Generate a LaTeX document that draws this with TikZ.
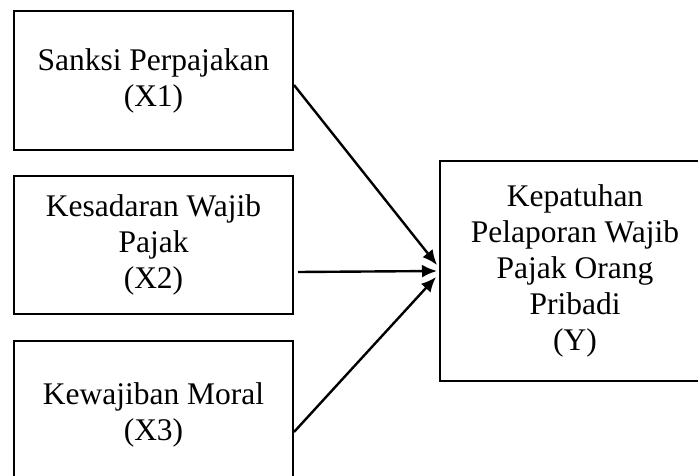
\documentclass[tikz,border=0pt]{standalone}
\usepackage{fontspec}
\setmainfont{Liberation Serif}
\usetikzlibrary{arrows.meta}
\begin{document}
\begin{tikzpicture}[x=1pt,y=-1pt,>={Latex[length=15pt,width=13pt]},
	kotak/.style={draw,line width=2pt,align=center,inner sep=0pt,font=\fontsize{31.5}{36}\selectfont},
	panah/.style={->,line width=2.4pt}]
	\useasboundingbox (0,0) rectangle (698,476);
	\clip (0,0) rectangle (698,476);
	\node[kotak,minimum width=279pt,minimum height=139pt] (x1) at (153.5,80.5) {Sanksi Perpajakan\\(X1)};
	\node[kotak,minimum width=279pt,minimum height=138pt] (x2) at (153.5,245) {Kesadaran Wajib\\Pajak\\(X2)};
	\node[kotak,minimum width=279pt,minimum height=148pt] (x3) at (153.5,415) {Kewajiban Moral\\(X3)};
	\node[kotak,minimum width=270pt,minimum height=220pt] (y) at (575,271) {Kepatuhan\\Pelaporan Wajib\\Pajak Orang\\Pribadi\\(Y)};
	\draw[panah] ([yshift=-4.5pt]x1.east) -- ([xshift=-2pt,yshift=6pt]y.west);
	\draw[panah] ([xshift=4pt,yshift=-27pt]x2.east) -- ([xshift=-2pt]y.west);
	\draw[panah] ([yshift=-17pt]x3.east) -- ([xshift=-3pt,yshift=-6pt]y.west);
\end{tikzpicture}
\end{document}
